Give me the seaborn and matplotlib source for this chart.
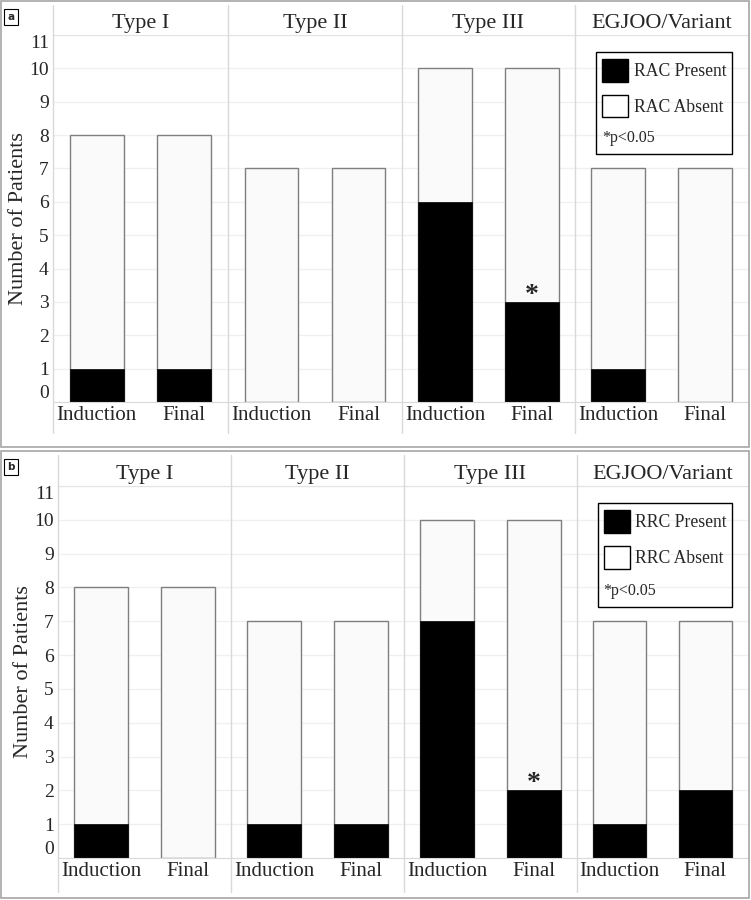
import matplotlib
matplotlib.use('Agg')
import matplotlib.pyplot as plt
import seaborn as sns
import pandas as pd
from matplotlib.patches import Rectangle, Patch
from matplotlib.lines import Line2D

# ── Data ───────────────────────────────────────────────────────────────────
types = ['Type I', 'Type II', 'Type III', 'EGJOO/Variant']
timepoints = ['Induction', 'Final']
totals = [8, 8, 7, 7, 10, 10, 7, 7]          # per type: Induction, Final
rac_present = [1, 1, 0, 0, 6, 3, 1, 0]
rrc_present = [1, 0, 1, 1, 7, 2, 1, 2]
sig_type, sig_time = 'Type III', 'Final'
p_note = '*p<0.05'

W, H = 751, 900
sns.set_style('white')
plt.rcParams['font.family'] = ['Liberation Serif', 'DejaVu Serif']

fig = plt.figure(figsize=(W / 100, H / 100), dpi=100)


def px_axes(x0, y_top, x1, y_bot):
    return fig.add_axes([x0 / W, 1 - y_bot / H, (x1 - x0) / W, (y_bot - y_top) / H])


def draw_panel(present, prefix, letter, edges, top, bot, sep_top, sep_bot, box):
    df = pd.DataFrame({
        'Type': [t for t in types for _ in timepoints],
        'Time': timepoints * len(types),
        'Total': totals,
        'Present': present,
    })

    # panel frame + letter
    fig.patches.append(Rectangle((box[0] / W, 1 - box[3] / H),
                                 (box[2] - box[0]) / W, (box[3] - box[1]) / H,
                                 transform=fig.transFigure, fill=False,
                                 ec='#a6a6a6', lw=1.2))
    fig.text(11 / W, 1 - (box[1] + 16) / H, letter, family='DejaVu Sans',
             fontsize=7.5, fontweight='bold', ha='center', va='center',
             bbox=dict(boxstyle='square,pad=0.3', fc='white', ec='black', lw=0.8))

    for i, t in enumerate(types):
        ax = px_axes(edges[i], top, edges[i + 1], bot)
        sub = df[df['Type'] == t]
        sns.barplot(data=sub, x='Time', y='Total', order=timepoints, ax=ax,
                    color='#fafafa', edgecolor='#7f7f7f', linewidth=1,
                    width=0.62, saturation=1, errorbar=None)
        sns.barplot(data=sub, x='Time', y='Present', order=timepoints, ax=ax,
                    color='black', edgecolor='black', linewidth=0.5,
                    width=0.62, saturation=1, errorbar=None)
        ax.set_xlim(-0.5, 1.5)
        ax.set_ylim(0, 11)
        ax.set_yticks(range(12))
        ax.set_xlabel('')
        ax.set_ylabel('')
        ax.grid(axis='y', color='#f0f0f0', lw=1)
        ax.set_axisbelow(True)
        for s in ['left', 'right']:
            ax.spines[s].set_visible(False)
        ax.spines['top'].set_color('#e3e3e3')
        ax.spines['bottom'].set_color('#d9d9d9')
        ax.tick_params(length=0, labelsize=15, pad=3)
        ax.tick_params(axis='y', labelsize=14)
        ax.set_title(t, fontsize=16, pad=5)
        if i == 0:
            labs = ax.get_yticklabels()
            labs[0].set_va('bottom')
            labs[-1].set_va('top')
            ax.set_ylabel('Number of Patients', fontsize=16, labelpad=1)
        else:
            ax.tick_params(labelleft=False)

        if t == sig_type:
            y = sub.loc[sub['Time'] == sig_time, 'Present'].iloc[0]
            ax.text(timepoints.index(sig_time), y + 0.2, '*', ha='center',
                    va='center', fontsize=20, fontweight='bold')

        if i == len(types) - 1:
            ax.add_patch(Rectangle((0.121, 0.676), 0.787, 0.278,
                                   transform=ax.transAxes, fill=False,
                                   ec='black', lw=1, zorder=5))
            handles = [Patch(fc='black', ec='black', label=f'{prefix} Present'),
                       Patch(fc='white', ec='black', label=f'{prefix} Absent')]
            ax.legend(handles=handles, loc='upper left',
                      bbox_to_anchor=(0.155, 0.935), frameon=False,
                      fontsize=12.7, handlelength=1.5, handleheight=1.6,
                      handletextpad=0.3, labelspacing=0.75, borderpad=0,
                      borderaxespad=0)
            ax.text(0.155, 0.718, p_note, transform=ax.transAxes,
                    fontsize=11.5, va='center', ha='left')

    for x in edges[:-1]:
        fig.lines.append(Line2D([x / W, x / W], [1 - sep_top / H, 1 - sep_bot / H],
                                transform=fig.transFigure, color='#d9d9d9', lw=1))


draw_panel(rac_present, 'RAC', 'a', [53, 228, 402, 575, 748], 35, 402, 5, 433,
           (1, 1, 749, 447))
draw_panel(rrc_present, 'RRC', 'b', [58, 231, 404, 577, 748], 486, 858, 455, 892,
           (1, 451, 749, 898))

fig.savefig('out.png', dpi=100)
